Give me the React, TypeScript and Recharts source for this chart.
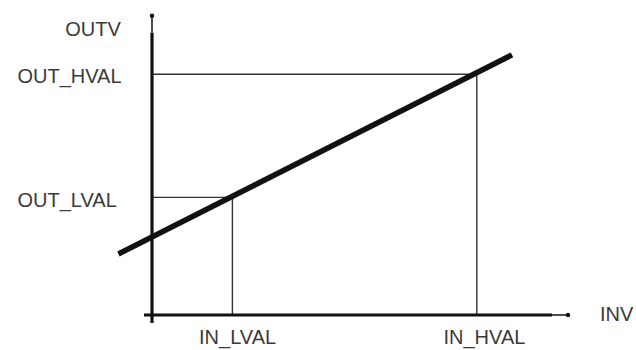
import React from 'react';
import { LineChart, Line, XAxis, YAxis, ReferenceLine, ReferenceDot } from 'recharts';

// transfer line (INV -> OUTV)
const lineInputs = [-8.4, 90];
const lineOutputs = [21.8, 92.9];
const lineData = lineInputs.map((inv, i) => ({ inv, outv: lineOutputs[i] }));

// limits
const inLimits = [20.1, 81.2];
const outLimits = [42, 86];
const inLabels = ['IN_LVAL', 'IN_HVAL'];
const outLabels = ['OUT_LVAL', 'OUT_HVAL'];

// axis extents
const xAxisExtent = [-2, 100, 104.5];
const yAxisExtent = [-2.9, 100.7, 107.5];

// label anchor positions (data units)
const inLabelPos = [
  { x: 21.4, y: -7.8 },
  { x: 83.1, y: -7.8 },
];
const outLabelPos = [
  { x: -8.8, y: 41 },
  { x: -7.6, y: 85.3 },
];
const axisNames = ['INV', 'OUTV'];
const axisNamePos = [
  { x: 112, y: 0.5 },
  { x: -7.8, y: 102.3 },
];

const FONT = '"Liberation Sans", Arial, sans-serif';
const TEXT = '#3a3a3a';
const INK = '#111';

const txt = (value: string, position: any) => ({
  value,
  position,
  offset: 0,
  fill: TEXT,
  fontSize: 20,
  fontFamily: FONT,
});

export default function App() {
  return (
    <div style={{ position: 'absolute', left: 0, top: 0, width: 636, height: 350, background: '#fff' }}>
      <LineChart width={636} height={350} data={lineData} margin={{ top: 0, right: 0, bottom: 0, left: 0 }}>
        <XAxis dataKey="inv" type="number" domain={[-38, 121]} hide />
        <YAxis type="number" domain={[-12.5, 112.5]} hide />

        {/* guide lines */}
        {inLimits.map((xv, i) => (
          <ReferenceLine
            key={'h' + i}
            segment={[{ x: 0, y: outLimits[i] }, { x: xv, y: outLimits[i] }]}
            stroke="#333"
            strokeWidth={1.4}
          />
        ))}
        {inLimits.map((xv, i) => (
          <ReferenceLine
            key={'v' + i}
            segment={[{ x: xv, y: outLimits[i] }, { x: xv, y: 0 }]}
            stroke="#333"
            strokeWidth={1.4}
          />
        ))}

        {/* axes */}
        <ReferenceLine segment={[{ x: 0, y: yAxisExtent[0] }, { x: 0, y: yAxisExtent[1] }]} stroke={INK} strokeWidth={3.2} />
        <ReferenceLine segment={[{ x: 0, y: yAxisExtent[1] }, { x: 0, y: yAxisExtent[2] }]} stroke={INK} strokeWidth={1.5} />
        <ReferenceLine segment={[{ x: xAxisExtent[0], y: 0 }, { x: xAxisExtent[1], y: 0 }]} stroke={INK} strokeWidth={3.2} />
        <ReferenceLine segment={[{ x: xAxisExtent[1], y: 0 }, { x: xAxisExtent[2], y: 0 }]} stroke={INK} strokeWidth={1.5} />
        <ReferenceDot x={0} y={yAxisExtent[2] - 0.6} r={2.2} fill={INK} stroke="none" />
        <ReferenceDot x={xAxisExtent[2] - 0.5} y={0} r={2.2} fill={INK} stroke="none" />

        <Line
          dataKey="outv"
          type="linear"
          stroke={INK}
          strokeWidth={5.5}
          dot={false}
          activeDot={false}
          isAnimationActive={false}
        />

        {/* labels */}
        {inLabels.map((l, i) => (
          <ReferenceDot key={'il' + i} x={inLabelPos[i].x} y={inLabelPos[i].y} r={0} fill="none" stroke="none" label={txt(l, 'center')} />
        ))}
        {outLabels.map((l, i) => (
          <ReferenceDot key={'ol' + i} x={outLabelPos[i].x} y={outLabelPos[i].y} r={0} fill="none" stroke="none" label={txt(l, 'left')} />
        ))}
        <ReferenceDot x={axisNamePos[0].x} y={axisNamePos[0].y} r={0} fill="none" stroke="none" label={txt(axisNames[0], 'right')} />
        <ReferenceDot x={axisNamePos[1].x} y={axisNamePos[1].y} r={0} fill="none" stroke="none" label={txt(axisNames[1], 'left')} />
      </LineChart>
    </div>
  );
}
